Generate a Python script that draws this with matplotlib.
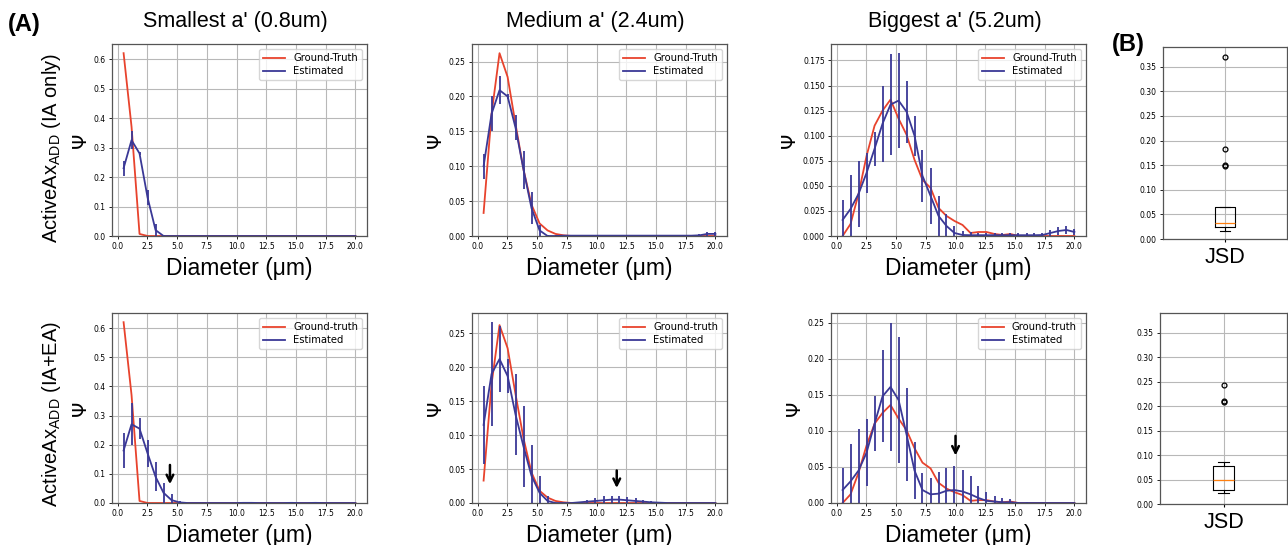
import numpy as np
import matplotlib
matplotlib.use("Agg")
import matplotlib.pyplot as plt

# ---------------- data ----------------
diam = [0.5, 1.17, 1.84, 2.52, 3.19, 3.86, 4.53, 5.21, 5.88, 6.55,
        7.22, 7.90, 8.57, 9.24, 9.91, 10.59, 11.26, 11.93, 12.60, 13.28,
        13.95, 14.62, 15.29, 15.97, 16.64, 17.31, 17.98, 18.66, 19.33, 20.0]

gt_small = [0.62, 0.37, 0.007, 0, 0, 0, 0, 0, 0, 0,
            0, 0, 0, 0, 0, 0, 0, 0, 0, 0,
            0, 0, 0, 0, 0, 0, 0, 0, 0, 0]
gt_medium = [0.033, 0.175, 0.262, 0.228, 0.16, 0.095, 0.045, 0.018, 0.008, 0.003,
             0.001, 0, 0, 0, 0, 0, 0, 0, 0, 0,
             0, 0, 0, 0, 0, 0, 0, 0, 0, 0]
gt_big = [0.0, 0.012, 0.042, 0.08, 0.11, 0.125, 0.136, 0.117, 0.101, 0.076,
          0.056, 0.048, 0.028, 0.02, 0.015, 0.011, 0.003, 0.004, 0.004, 0.002,
          0.001, 0.002, 0.0, 0, 0, 0, 0, 0, 0, 0]

# row 1: IA only
est1_small = [0.23, 0.325, 0.28, 0.13, 0.02, 0.0, 0, 0, 0, 0,
              0, 0, 0, 0, 0, 0, 0, 0, 0, 0,
              0, 0, 0, 0, 0, 0, 0, 0, 0, 0]
err1_small = [0.025, 0.03, 0.005, 0.025, 0.02, 0.002, 0, 0, 0, 0,
              0, 0, 0, 0, 0, 0, 0, 0, 0, 0,
              0, 0, 0, 0, 0, 0, 0, 0, 0, 0]
est1_medium = [0.10, 0.175, 0.209, 0.20, 0.155, 0.095, 0.04, 0.008, 0.0, 0.0,
               0.0005, 0.0005, 0.0005, 0.0005, 0.0005, 0.0005, 0.0005, 0.0005, 0.0005, 0.0005,
               0.0005, 0.0005, 0.0005, 0.0005, 0.0005, 0.0005, 0.0005, 0.001, 0.003, 0.003]
err1_medium = [0.018, 0.025, 0.02, 0.003, 0.018, 0.027, 0.023, 0.008, 0.001, 0.001,
               0.001, 0.001, 0.001, 0.001, 0.001, 0.001, 0.001, 0.001, 0.001, 0.001,
               0.001, 0.001, 0.001, 0.001, 0.001, 0.001, 0.001, 0.002, 0.003, 0.003]
est1_big = [0.016, 0.027, 0.042, 0.063, 0.087, 0.112, 0.131, 0.135, 0.124, 0.10,
            0.06, 0.04, 0.02, 0.01, 0.003, 0.001, 0.0008, 0.0008, 0.0008, 0.0008,
            0.0008, 0.0008, 0.0008, 0.0008, 0.0008, 0.001, 0.003, 0.005, 0.006, 0.004]
err1_big = [0.02, 0.034, 0.033, 0.02, 0.017, 0.038, 0.05, 0.047, 0.031, 0.02,
            0.026, 0.028, 0.02, 0.012, 0.007, 0.004, 0.003, 0.002, 0.002, 0.002,
            0.002, 0.002, 0.002, 0.002, 0.002, 0.002, 0.003, 0.004, 0.004, 0.003]

# row 2: IA + EA
est2_small = [0.18, 0.27, 0.255, 0.17, 0.09, 0.035, 0.01, 0.002, 0, 0,
              0, 0, 0, 0, 0, 0.0005, 0.0005, 0, 0, 0,
              0, 0.0005, 0, 0, 0.0005, 0, 0, 0, 0, 0]
err2_small = [0.06, 0.072, 0.035, 0.045, 0.05, 0.035, 0.02, 0.005, 0, 0,
              0, 0, 0, 0, 0, 0.002, 0.002, 0, 0, 0,
              0, 0.002, 0, 0, 0.002, 0, 0, 0, 0, 0]
est2_medium = [0.115, 0.19, 0.212, 0.187, 0.13, 0.083, 0.04, 0.015, 0.003, 0.0,
               0.0, 0.0, 0.001, 0.002, 0.003, 0.004, 0.005, 0.005, 0.004, 0.003,
               0.002, 0.001, 0.0005, 0, 0, 0, 0, 0, 0, 0]
err2_medium = [0.057, 0.076, 0.048, 0.025, 0.06, 0.06, 0.045, 0.025, 0.008, 0.0,
               0.0, 0.0, 0.001, 0.002, 0.004, 0.006, 0.006, 0.006, 0.005, 0.005,
               0.003, 0.002, 0.001, 0, 0, 0, 0, 0, 0, 0]
est2_big = [0.018, 0.03, 0.045, 0.07, 0.11, 0.148, 0.161, 0.143, 0.095, 0.045,
            0.018, 0.012, 0.013, 0.017, 0.018, 0.016, 0.012, 0.007, 0.003, 0.002,
            0.001, 0.001, 0.0, 0.0, 0, 0, 0, 0, 0, 0]
err2_big = [0.03, 0.052, 0.057, 0.047, 0.038, 0.064, 0.089, 0.087, 0.065, 0.04,
            0.024, 0.022, 0.03, 0.032, 0.033, 0.03, 0.025, 0.016, 0.012, 0.008,
            0.006, 0.004, 0.002, 0.001, 0, 0, 0, 0, 0, 0]

# JSD box-plot summaries
jsd1 = dict(q1=0.024, med=0.032, q3=0.065, whislo=0.016, whishi=0.065,
            fliers=[0.37, 0.182, 0.150, 0.148])
jsd2 = dict(q1=0.029, med=0.048, q3=0.078, whislo=0.022, whishi=0.086,
            fliers=[0.242, 0.210, 0.208])

col_titles = ["Smallest a' (0.8um)", "Medium a' (2.4um)", "Biggest a' (5.2um)"]
row_labels = ["ActiveAx$\\mathregular{_{ADD}}$ (IA only)",
              "ActiveAx$\\mathregular{_{ADD}}$ (IA+EA)"]
gt_labels = ["Ground-Truth", "Ground-truth"]

# ---------------- figure ----------------
W, H = 1288, 545
fig = plt.figure(figsize=(W / 100, H / 100), dpi=100)

RED = "#e8432d"
BLUE = "#3a3896"
ARIAL = "Liberation Sans"


def rect(x0, y0, x1, y1):
    return [x0 / W, 1 - y1 / H, (x1 - x0) / W, (y1 - y0) / H]


col_x = [(112, 367), (472, 727), (831, 1086)]
row_y = [(44, 236), (313, 503)]
box_x = [(1163, 1287), (1160, 1287)]
box_y = [(47, 239), (313, 504)]

gts = [gt_small, gt_medium, gt_big]
ests = [[est1_small, est1_medium, est1_big], [est2_small, est2_medium, est2_big]]
errs = [[err1_small, err1_medium, err1_big], [err2_small, err2_medium, err2_big]]
arrows = [None, None, None, (4.4, 0.14, 0.055), (11.7, 0.052, 0.018), (10.0, 0.097, 0.062)]

for r in range(2):
    for c in range(3):
        x0, x1 = col_x[c]
        y0, y1 = row_y[r]
        ax = fig.add_axes(rect(x0, y0, x1, y1))
        ax.plot(diam, gts[c], color=RED, lw=1.3, label=gt_labels[r])
        ax.plot(diam, ests[r][c], color=BLUE, lw=1.3, label="Estimated")
        ax.errorbar(diam, ests[r][c], yerr=errs[r][c], fmt="none", ecolor=BLUE,
                    elinewidth=1.3, capsize=0)
        ax.set_ylim(bottom=0)
        ax.set_xticks([0, 2.5, 5, 7.5, 10, 12.5, 15, 17.5, 20])
        ax.grid(True, color="#b8b8b8", lw=0.8)
        ax.set_axisbelow(True)
        ax.tick_params(labelsize=5.5, length=2.5, width=0.6, pad=2)
        for s in ax.spines.values():
            s.set_color("#555555")
            s.set_linewidth(0.9)
        leg = ax.legend(loc="upper right", fontsize=7.2, frameon=True,
                        handlelength=2.2, borderpad=0.4, labelspacing=0.3)
        leg.get_frame().set_edgecolor("#cccccc")
        ax.set_ylabel("\u03a8", fontsize=14, labelpad=3)
        ax.set_xlabel("Diameter (\u03bcm)", fontsize=16.5, family=ARIAL, labelpad=4)
        a = arrows[r * 3 + c]
        if a is not None:
            ax.annotate("", xy=(a[0], a[2]), xytext=(a[0], a[1]),
                        arrowprops=dict(arrowstyle="->", lw=1.8, color="black",
                                        mutation_scale=12))

    # box plot
    bx0, bx1 = box_x[r]
    by0, by1 = box_y[r]
    axb = fig.add_axes(rect(bx0, by0, bx1, by1))
    st = dict(jsd1 if r == 0 else jsd2)
    st["label"] = "JSD"
    axb.bxp([st], widths=0.16, showfliers=True,
            boxprops=dict(color="black", lw=0.8),
            whiskerprops=dict(color="black", lw=0.8),
            capprops=dict(color="black", lw=0.8),
            medianprops=dict(color="#ff7f0e", lw=0.9),
            flierprops=dict(marker="o", markerfacecolor="none",
                            markeredgecolor="black", markersize=3.5, markeredgewidth=0.9))
    axb.set_ylim(0, 0.39)
    axb.set_xlim(0.5, 1.5)
    axb.set_yticks([0, 0.05, 0.10, 0.15, 0.20, 0.25, 0.30, 0.35])
    axb.grid(True, color="#b8b8b8", lw=0.8)
    axb.set_axisbelow(True)
    axb.tick_params(axis="y", labelsize=5.5, length=2.5, width=0.6, pad=2)
    axb.tick_params(axis="x", labelsize=15.5, length=2.5, pad=3)
    for lab in axb.get_xticklabels():
        lab.set_family(ARIAL)
    for s in axb.spines.values():
        s.set_color("#555555")
        s.set_linewidth(0.9)

# column titles
for c in range(3):
    xc = (col_x[c][0] + col_x[c][1]) / 2 - 4
    fig.text(xc / W, 1 - 22 / H, col_titles[c], ha="center", va="center",
             fontsize=15.5, family=ARIAL)

# row labels
for r, yc in enumerate([148, 414]):
    fig.text(52 / W, 1 - yc / H, row_labels[r], rotation=90, ha="center",
             va="center", fontsize=14.5, family=ARIAL)

fig.text(8 / W, 1 - 25 / H, "(A)", ha="left", va="center", fontsize=17,
         fontweight="bold", family=ARIAL)
fig.text(1112 / W, 1 - 45 / H, "(B)", ha="left", va="center", fontsize=17,
         fontweight="bold", family=ARIAL)

fig.savefig("out.png", dpi=100)
